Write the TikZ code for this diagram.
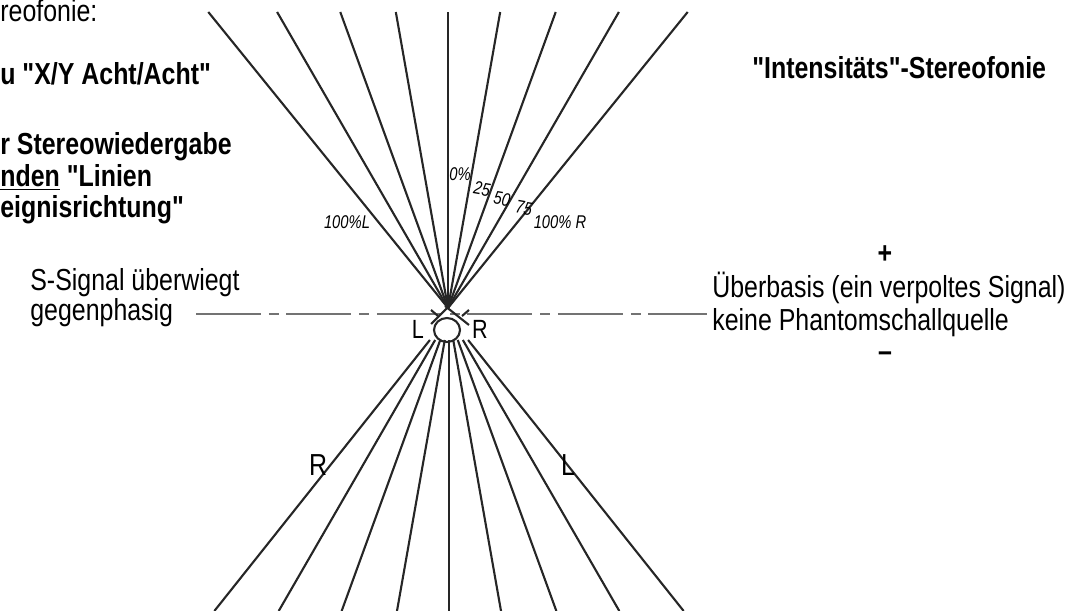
\documentclass[tikz,border=0pt]{standalone}
\usepackage{fontspec}
\newfontfamily\narrowfont{Liberation Sans}[FakeStretch=0.82]
\newfontfamily\handfont{Liberation Sans}[FakeStretch=0.8]
\newcommand\qm{\symbol{34}}
\begin{document}
\begin{tikzpicture}[x=0.02cm,y=-0.02cm,
  ray/.style={line width=1.2pt,black!85},
  axis/.style={line width=0.6pt,black!55,dash pattern=on 37pt off 4.5pt on 5.5pt off 4.5pt},
  txt/.style={anchor=base west,inner sep=0pt,font=\narrowfont\fontsize{17.3}{20}\selectfont},
  btxt/.style={txt,font=\narrowfont\fontsize{17.3}{20}\selectfont\bfseries},
  hand/.style={inner sep=0pt,font=\handfont\itshape\fontsize{10.5}{12}\selectfont},
  mic/.style={anchor=center,inner sep=0pt,font=\narrowfont\fontsize{15}{17}\selectfont}]
  \useasboundingbox (0,0) rectangle (1084,611);
  \coordinate (apex) at (448,308);
  % upper fan
  \foreach \a in {-39,-30,-20,-10,0,10,20,30,39}
    \draw[ray] (apex) -- ({448+296*tan(\a)},12);
  % lower fan
  \foreach \a in {-38.5,-30,-20,-10,0,10,20,30,38.5}
    \draw[ray] ({449+24*tan(\a)},340) -- ({449+295*tan(\a)},611);
  % base line
  \draw[axis] (196,314) -- (707,314);
  % head and microphones
  \draw[ray] (447,330) ellipse [x radius=0.26cm,y radius=0.24cm];
  \draw[ray] (431,324) -- (449,306);
  \draw[ray] (469,325) -- (445,306);
  \draw[ray] (431,310) -- (438,316);
  \draw[ray] (469,310) -- (462,316);
  \node[mic] (micl) at (418,329) {L};
  \node[mic] (micr) at (480,329) {R};
  % handwritten percentages
  \node[hand] (pl100) at (347,222) {100\%L};
  \node[hand] (p0) at (460,174) {0\%};
  \node[hand,rotate=-10] (p25) at (482,189) {25};
  \node[hand,rotate=-10] (p50) at (502,199) {50};
  \node[hand,rotate=-10] (p75) at (524,208) {75};
  \node[hand] (pr100) at (560,222) {100\% R};
  % left texts
  \node[txt] (t1) at (0,22) {reofonie:};
  \node[btxt] (t2) at (0,85) {u \qm X/Y Acht/Acht\qm};
  \node[btxt] (t3) at (0,155) {r Stereowiedergabe};
  \node[btxt] (t4) at (0,187) {\underline{nden} \qm Linien};
  \node[btxt] (t5) at (0,217) {eignisrichtung\qm};
  \node[txt] (sl1) at (30,290) {S-Signal überwiegt};
  \node[txt] (sl2) at (30,320) {gegenphasig};
  % right texts
  \node[btxt] (inten) at (752,79) {\qm Intensitäts\qm-Stereofonie};
  \node[txt,anchor=center] (plus) at (885,255) {\textbf{+}};
  \node[txt] (ueb1) at (712,297) {Überbasis (ein verpoltes Signal)};
  \node[txt] (ueb2) at (712,330) {keine Phantomschallquelle};
  \node[txt,anchor=center] (minus) at (885,357) {\textbf{–}};
  % side labels
  \node[txt,anchor=center] (sr) at (318,465) {R};
  \node[txt,anchor=center] (sll) at (568,465) {L};
\end{tikzpicture}
\end{document}
